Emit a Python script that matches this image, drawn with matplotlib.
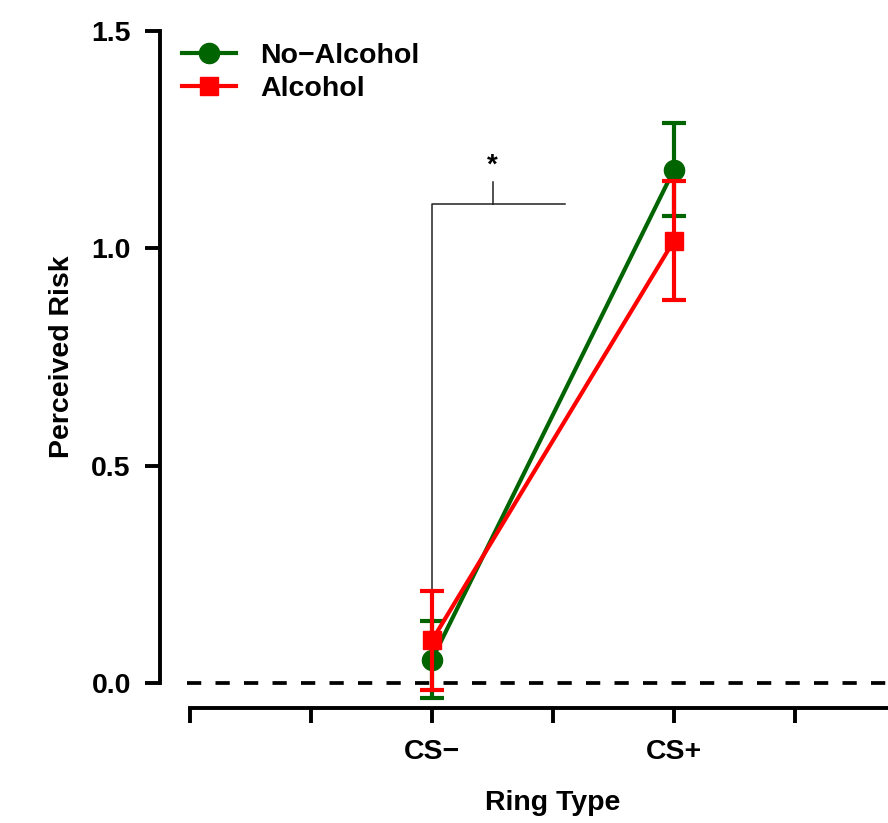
import matplotlib
matplotlib.use("Agg")
import matplotlib.pyplot as plt
from matplotlib.lines import Line2D
import numpy as np

plt.rcParams['font.family'] = ['Liberation Sans', 'DejaVu Sans']
plt.rcParams['font.weight'] = 'bold'

# ---- data ----
categories = ["CS\u2212", "CS+"]
cat_pos = [2, 4]              # positions on the category axis
tick_pos = [0, 1, 2, 3, 4, 5, 6]
no_alcohol_mean = [0.054, 1.181]
no_alcohol_se = [0.089, 0.107]
alcohol_mean = [0.098, 1.018]
alcohol_se = [0.114, 0.137]
series_names = ["No\u2212Alcohol", "Alcohol"]
y_ticks = [0.0, 0.5, 1.0, 1.5]
y_tick_labels = ["0.0", "0.5", "1.0", "1.5"]

# significance bracket (data units)
bracket_y = 1.101
bracket_x_right = 3.1
bracket_x_left = 2.0
bracket_bottom = 0.212
bracket_tick_top = 1.152
bracket_mid = 2.5
star_y = 1.19

W, H = 888, 823
FS = 20.5
fig = plt.figure(figsize=(W / 100, H / 100), dpi=100)

# axes placement in pixels
px_per_x = 121.0
x0_px = 190.0
left_px = 160.0
xlim_left = (left_px - x0_px) / px_per_x
xlim_right = 6.5
right_px = x0_px + xlim_right * px_per_x
px_per_y = (683 - 31) / 1.5
ylim_bottom = -(708 - 683) / px_per_y
ylim_top = 1.55
top_px = 683 - ylim_top * px_per_y
bottom_px = 708

ax = fig.add_axes([left_px / W, 1 - bottom_px / H,
                   (right_px - left_px) / W, (bottom_px - top_px) / H])
ax.set_xlim(xlim_left, xlim_right)
ax.set_ylim(ylim_bottom, ylim_top)

green = "#006400"
red = "#FF0000"

# dashed zero line
ax.plot([-0.025, xlim_right], [0, 0], color="black", lw=2.7,
        dashes=(3.8, 3.8), zorder=1)

# significance bracket
ax.plot([bracket_x_left, bracket_x_left, bracket_x_right],
        [bracket_bottom, bracket_y, bracket_y], color="#222222", lw=1.1, zorder=1)
ax.plot([bracket_mid, bracket_mid], [bracket_y, bracket_tick_top],
        color="#222222", lw=1.1, zorder=1)
ax.text(bracket_mid, star_y, "*", ha="center", va="center", fontsize=20,
        fontweight="bold", color="black")

# series
ax.errorbar(cat_pos, no_alcohol_mean, yerr=no_alcohol_se, color=green,
            lw=3, marker="o", markersize=14.5, capsize=8.5, capthick=3,
            elinewidth=3, zorder=3)
ax.errorbar(cat_pos, alcohol_mean, yerr=alcohol_se, color=red,
            lw=3, marker="s", markersize=12.5, capsize=8.5, capthick=3,
            elinewidth=3, zorder=4)

# spines
for s in ["top", "right"]:
    ax.spines[s].set_visible(False)
ax.spines["left"].set_bounds(0, 1.5)
ax.spines["bottom"].set_bounds(0, 6)
ax.spines["left"].set_linewidth(2.8)
ax.spines["bottom"].set_linewidth(2.8)

ax.set_yticks(y_ticks)
ax.set_yticklabels(y_tick_labels)
xt_labels = [""] * len(tick_pos)
for c, p in zip(categories, cat_pos):
    xt_labels[tick_pos.index(p)] = c
ax.set_xticks(tick_pos)
ax.set_xticklabels(xt_labels)
ax.tick_params(axis="both", length=11, width=2.8, labelsize=FS, direction="out")
ax.tick_params(axis="y", pad=10)
ax.tick_params(axis="x", pad=11)
for lab in ax.get_xticklabels() + ax.get_yticklabels():
    lab.set_fontweight("bold")

fig.text(62 / W, 1 - 357 / H, "Perceived Risk", rotation=90, ha="center",
         va="center", fontsize=FS, fontweight="bold")
fig.text((x0_px + 3 * px_per_x) / W, 1 - 803 / H, "Ring Type", ha="center",
         va="center", fontsize=FS, fontweight="bold")

h1 = Line2D([], [], color=green, lw=3, marker="o", markersize=14.5)
h2 = Line2D([], [], color=red, lw=3, marker="s", markersize=12.5)
leg = ax.legend(handles=[h1, h2], labels=series_names, loc="upper left",
                bbox_to_anchor=(182 / W, 1 - 43 / H), bbox_transform=fig.transFigure,
                frameon=False, fontsize=FS, handlelength=1.9, handletextpad=0.85,
                labelspacing=0.25, borderpad=0, borderaxespad=0)
for t in leg.get_texts():
    t.set_fontweight("bold")

fig.savefig("out.png", dpi=100)
